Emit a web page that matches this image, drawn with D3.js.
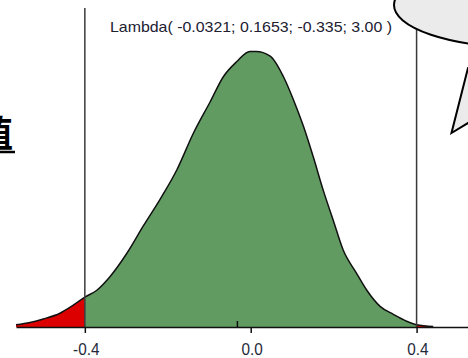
<!DOCTYPE html>
<html>
<head>
<meta charset="utf-8">
<script src="https://cdn.jsdelivr.net/npm/d3@7"></script>
<style>
  body { margin: 0; background: #fff; }
  svg { display: block; }
</style>
</head>
<body>
<svg width="468" height="358"></svg>
<script>
// density curve (x value, density)
const xValues = [-0.566, -0.532, -0.500, -0.460, -0.428, -0.400, -0.371, -0.339, -0.299, -0.259,
                 -0.219, -0.178, -0.138, -0.098, -0.066, -0.034, -0.002, 0.013, 0.047, 0.079,
                 0.103, 0.127, 0.151, 0.175, 0.199, 0.223, 0.255, 0.280, 0.312, 0.344,
                 0.376, 0.400, 0.440];
const densities = [0.02, 0.04, 0.07, 0.12, 0.19, 0.26, 0.32, 0.44, 0.64, 0.88,
                   1.11, 1.37, 1.69, 1.96, 2.18, 2.31, 2.40, 2.40, 2.36, 2.18,
                   1.98, 1.75, 1.48, 1.19, 0.93, 0.67, 0.47, 0.32, 0.18, 0.11,
                   0.05, 0.02, 0.005];
const tickValues = [-0.4, 0.0, 0.4];
const cutoffs = [-0.4, 0.4];
const meanValue = -0.0321;
const titleText = "Lambda( -0.0321; 0.1653; -0.335; 3.00 )";
const sideLabel = "值";

const data = xValues.map((v, i) => ({x: v, d: densities[i]}));

const svg = d3.select("svg");
const baseY = 327;

const x = d3.scaleLinear().domain([-0.566, 0.524]).range([16, 468]);
const y = d3.scaleLinear().domain([0, 2.5]).range([baseY, 40]);

const area = d3.area()
  .x(d => x(d.x))
  .y0(baseY)
  .y1(d => y(d.d))
  .curve(d3.curveMonotoneX);

const line = d3.line()
  .x(d => x(d.x))
  .y(d => y(d.d))
  .curve(d3.curveMonotoneX);

// tails in red, middle in green
const leftTail = data.filter(d => d.x <= cutoffs[0]);
const middle = data.filter(d => d.x >= cutoffs[0] && d.x <= cutoffs[1]);
const rightTail = data.filter(d => d.x >= cutoffs[1]);

svg.append("path").datum(leftTail).attr("d", area).attr("fill", "#dc0000");
svg.append("path").datum(rightTail).attr("d", area).attr("fill", "#dc0000");
svg.append("path").datum(middle).attr("d", area).attr("fill", "#619b62");

svg.append("path")
  .datum(data)
  .attr("fill", "none")
  .attr("stroke", "#111")
  .attr("stroke-width", 1.5)
  .attr("d", line);

// cutoff lines
svg.selectAll(".cut")
  .data(cutoffs)
  .join("line")
  .attr("class", "cut")
  .attr("x1", d => x(d)).attr("x2", d => x(d))
  .attr("y1", 8).attr("y2", baseY)
  .attr("stroke", "#3a3a3a")
  .attr("stroke-width", 1.5);

// mean marker
svg.append("line")
  .attr("x1", x(meanValue)).attr("x2", x(meanValue))
  .attr("y1", baseY - 6).attr("y2", baseY)
  .attr("stroke", "#111")
  .attr("stroke-width", 1.5);

// x axis
const axis = svg.append("g")
  .attr("transform", `translate(0,${baseY})`)
  .call(d3.axisBottom(x)
    .tickValues(tickValues)
    .tickSize(6)
    .tickSizeOuter(0)
    .tickFormat(d => d.toFixed(1)));
axis.select(".domain").attr("stroke", "#111").attr("stroke-width", 1.5);
axis.selectAll(".tick line").attr("stroke", "#111").attr("stroke-width", 1.5);
axis.selectAll(".tick text")
  .attr("y", 28)
  .attr("dy", null)
  .attr("dx", 1)
  .attr("transform", "scale(0.9,1)")
  .attr("fill", "#1e2a3a")
  .style("font-family", "'Liberation Sans', Arial, sans-serif")
  .style("font-size", "17px");

// title
svg.append("text")
  .attr("x", 110)
  .attr("y", 32)
  .attr("textLength", 282)
  .attr("lengthAdjust", "spacingAndGlyphs")
  .attr("fill", "#202030")
  .style("font-family", "'Liberation Sans', Arial, sans-serif")
  .style("font-size", "15px")
  .text(titleText);

// clipped label on the left edge
svg.append("text")
  .attr("x", 13)
  .attr("y", 147)
  .attr("text-anchor", "end")
  .attr("fill", "#000")
  .style("font-family", "'Noto Sans CJK SC', sans-serif")
  .style("font-weight", "bold")
  .style("font-size", "36px")
  .text(sideLabel);
svg.append("line")
  .attr("x1", 0).attr("x2", 15)
  .attr("y1", 152).attr("y2", 152)
  .attr("stroke", "#000")
  .attr("stroke-width", 2.5);

// callout bubble
svg.append("path")
  .attr("d", "M468,68 L451.5,133 L468,123 L490,120 L490,60 Z")
  .attr("fill", "#ebebeb")
  .attr("stroke", "#000")
  .attr("stroke-width", 2);
svg.append("ellipse")
  .attr("cx", 520).attr("cy", 5)
  .attr("rx", 126).attr("ry", 42)
  .attr("fill", "#ebebeb")
  .attr("stroke", "#000")
  .attr("stroke-width", 2);
</script>
</body>
</html>
